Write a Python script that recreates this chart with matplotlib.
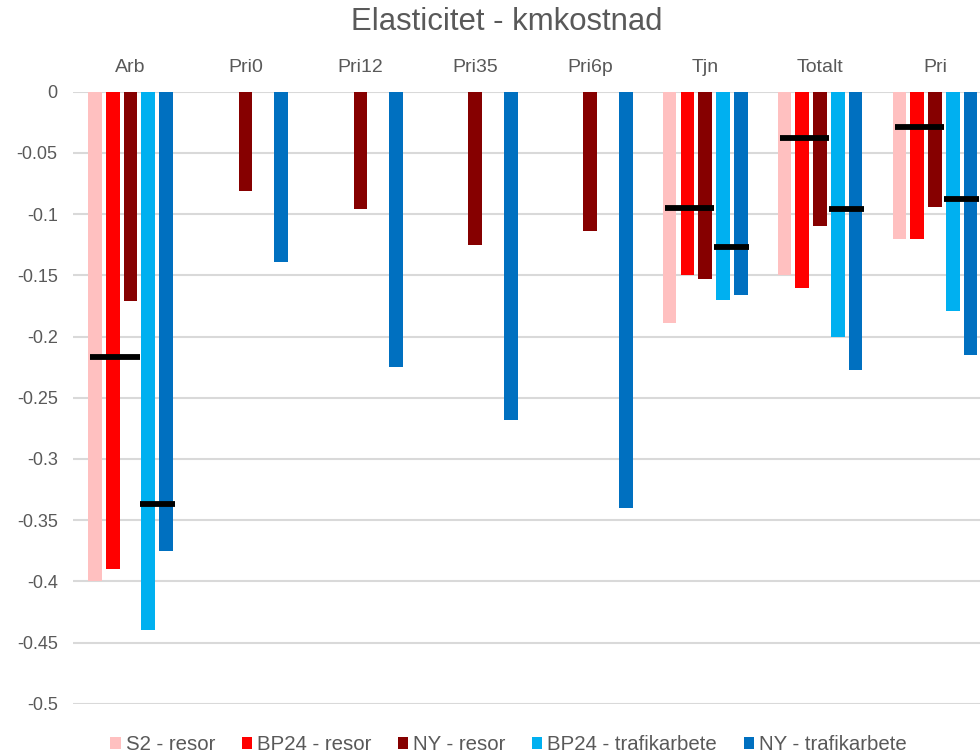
import numpy as np
import matplotlib
matplotlib.use("Agg")
import matplotlib.pyplot as plt
from matplotlib.ticker import FuncFormatter

plt.rcParams['font.family'] = ['Liberation Sans', 'DejaVu Sans']

categories = ["Arb", "Pri0", "Pri12", "Pri35", "Pri6p", "Tjn", "Totalt", "Pri"]

s2_resor = [-0.40, np.nan, np.nan, np.nan, np.nan, -0.189, -0.150, -0.120]
bp24_resor = [-0.39, np.nan, np.nan, np.nan, np.nan, -0.150, -0.160, -0.120]
ny_resor = [-0.171, -0.081, -0.096, -0.125, -0.114, -0.153, -0.110, -0.094]
bp24_trafik = [-0.44, np.nan, np.nan, np.nan, np.nan, -0.170, -0.200, -0.179]
ny_trafik = [-0.375, -0.139, -0.225, -0.268, -0.340, -0.166, -0.227, -0.215]

ref_resor = [-0.217, np.nan, np.nan, np.nan, np.nan, -0.095, -0.038, -0.029]
ref_trafik = [-0.337, np.nan, np.nan, np.nan, np.nan, -0.127, -0.096, -0.088]

series = [
    ("S2 - resor", s2_resor, "#FFC0C0"),
    ("BP24 - resor", bp24_resor, "#FF0000"),
    ("NY - resor", ny_resor, "#860000"),
    ("BP24 - trafikarbete", bp24_trafik, "#00B0F0"),
    ("NY - trafikarbete", ny_trafik, "#0070C0"),
]

fig = plt.figure(figsize=(9.8, 7.56), dpi=100)
ax = fig.add_axes([73 / 980, 52.3 / 756, 919.5 / 980, 612 / 756])

x = np.arange(len(categories))
step = 0.1545
width = 0.119
for i, (name, vals, col) in enumerate(series):
    ax.bar(x + (i - 2) * step, vals, width=width, color=col, label=name, zorder=2)

# reference levels drawn as short horizontal dashes
for xi, r in zip(x, ref_resor):
    if not np.isnan(r):
        ax.hlines(r, xi - 0.35, xi + 0.08, color="black", linewidth=4.2, zorder=3)
for xi, r in zip(x, ref_trafik):
    if not np.isnan(r):
        ax.hlines(r, xi + 0.08, xi + 0.385, color="black", linewidth=4.2, zorder=3)

ax.set_xlim(-0.5, len(categories) - 0.5)
ax.set_ylim(-0.5, 0)
ax.set_yticks(np.arange(-0.5, 0.001, 0.05))
ax.yaxis.set_major_formatter(FuncFormatter(lambda v, p: "0" if abs(v) < 1e-9 else f"{v:g}"))
ax.grid(axis="y", color="#D9D9D9", linewidth=1.5, zorder=0)
ax.set_axisbelow(True)
for s in ax.spines.values():
    s.set_visible(False)

ax.xaxis.tick_top()
ax.set_xticks(x)
ax.set_xticklabels(categories)
ax.tick_params(axis="x", length=0, pad=11, labelsize=14, labelcolor="#595959")
ax.tick_params(axis="y", length=0, pad=11, labelsize=13, labelcolor="#595959")

fig.text(0.517, 0.971, "Elasticitet - kmkostnad", ha="center", va="center",
         fontsize=22.4, color="#595959")

fig.legend(loc="center", bbox_to_anchor=(0.519, 0.015), ncol=5, frameon=False,
           fontsize=14.7, labelcolor="#595959", handlelength=0.5, handleheight=0.5,
           handletextpad=0.25, columnspacing=1.3)

fig.savefig("out.png", dpi=100)
